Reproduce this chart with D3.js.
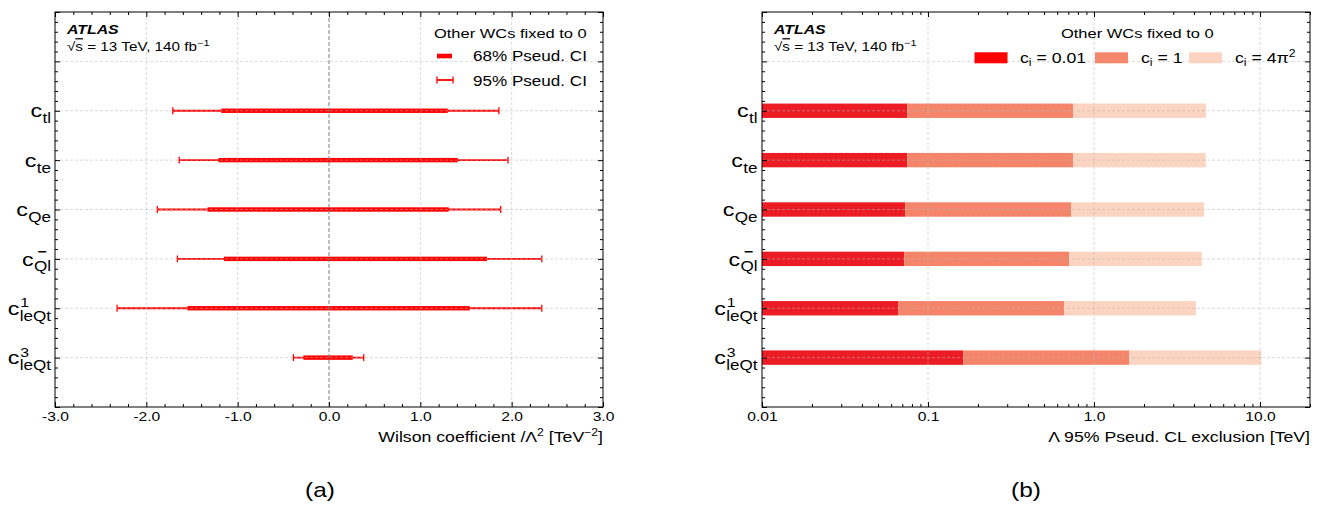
<!DOCTYPE html>
<html>
<head>
<meta charset="utf-8">
<script src="https://cdn.jsdelivr.net/npm/d3@7"></script>
<style>
body{margin:0;background:#fff;}
text{font-family:"Liberation Sans",Arial,Helvetica,sans-serif;}
</style>
</head>
<body>
<svg id="chart" width="1320" height="507"></svg>
<script>
// operators, top row first
var opSub = ["tl", "te", "Qe", "Ql", "leQt", "leQt"];
var opSup = ["", "", "", "\u2212", "1", "3"];
var opPos = [5, 4, 3, 2, 1, 0];

// (a) pseudo confidence intervals [TeV^-2]
var ci68Lo = [-1.18, -1.21, -1.33, -1.15, -1.55, -0.28];
var ci68Hi = [1.30, 1.41, 1.31, 1.73, 1.54, 0.26];
var ci95Lo = [-1.71, -1.64, -1.88, -1.66, -2.32, -0.39];
var ci95Hi = [1.86, 1.96, 1.88, 2.33, 2.33, 0.38];

// (b) Lambda exclusion [TeV] for c_i = 0.01, 1, 4pi^2
var lam001 = [0.075, 0.075, 0.073, 0.072, 0.066, 0.163];
var lam1 = [0.747, 0.747, 0.729, 0.709, 0.660, 1.625];
var lam4pi2 = [4.73, 4.71, 4.60, 4.46, 4.11, 10.18];

var xTicksWC = [-3, -2, -1, 0, 1, 2, 3];
var xTicksLam = [0.01, 0.1, 1, 10];
var xTickLabelsLam = ["0.01", "0.1", "1.0", "10.0"];

var SX = 1.22;   // the figure text is a bit wider than high
var top_ = 12, bottom = 407;

var svg = d3.select("#chart");
svg.append("rect").attr("width", 1320).attr("height", 507).attr("fill", "#fff");

var yScale = d3.scaleLinear().domain([-1, 7]).range([bottom, top_]);
var xWC = d3.scaleLinear().domain([-3, 3]).range([55, 603]);
var xLam = d3.scaleLog().domain([0.01, 20]).range([762, 1310]);

var barCol = ["#ec1c24", "#f4856a", "#fcd4c2"];
var legCol = ["#ff0000", "#f4876c", "#fcd3c1"];

function txt(g, x, y, size, anchor){
    return g.append("text")
        .attr("transform", `translate(${x},${y}) scale(${SX},1)`)
        .attr("font-size", size)
        .attr("text-anchor", anchor || "start")
        .attr("fill", "#000");
}

function grid(g, x, vals){
    var x0 = x.range()[0], x1 = x.range()[1];
    var gg = g.append("g").attr("class", "grid")
        .attr("stroke", "#b8b8b8").attr("stroke-width", 0.7)
        .attr("stroke-dasharray", "3,2").attr("opacity", 0.75);
    gg.selectAll("line.h").data(d3.range(0, 7)).join("line")
        .attr("class", "h")
        .attr("x1", x0).attr("x2", x1)
        .attr("y1", d => yScale(d)).attr("y2", d => yScale(d));
    gg.selectAll("line.v").data(vals).join("line")
        .attr("class", "v")
        .attr("x1", d => x(d)).attr("x2", d => x(d))
        .attr("y1", top_).attr("y2", bottom);
}

function axes(g, x, majorX, minorX, fmt){
    var x0 = x.range()[0], x1 = x.range()[1];
    var majorY = d3.range(-1, 8);
    var minorY = d3.range(-1, 7.001, 0.2).filter(v => Math.abs(v - Math.round(v)) > 1e-6);
    var list = [
        [d3.axisBottom(x).tickValues(majorX).tickFormat(fmt), 0, bottom, 5],
        [d3.axisBottom(x).tickValues(minorX).tickFormat(""), 0, bottom, 3],
        [d3.axisTop(x).tickValues(majorX).tickFormat(""), 0, top_, 5],
        [d3.axisTop(x).tickValues(minorX).tickFormat(""), 0, top_, 3],
        [d3.axisLeft(yScale).tickValues(majorY).tickFormat(""), x0, 0, 5],
        [d3.axisLeft(yScale).tickValues(minorY).tickFormat(""), x0, 0, 3],
        [d3.axisRight(yScale).tickValues(majorY).tickFormat(""), x1, 0, 5],
        [d3.axisRight(yScale).tickValues(minorY).tickFormat(""), x1, 0, 3]
    ];
    list.forEach(function(a){
        var ax = g.append("g")
            .attr("transform", `translate(${a[1]},${a[2]})`)
            .call(a[0].tickSizeInner(-a[3]).tickSizeOuter(0).tickPadding(4.6));
        ax.select(".domain").remove();
        ax.attr("font-family", null).attr("font-size", 12.8);
        ax.selectAll("text").attr("transform", `scale(${SX},1)`).attr("fill", "#000");
        ax.selectAll("line").attr("stroke", "#000");
    });
    g.append("rect")
        .attr("x", x0).attr("y", top_)
        .attr("width", x1 - x0).attr("height", bottom - top_)
        .attr("fill", "none").attr("stroke", "#000").attr("stroke-width", 1);
}

function opLabels(g, xRight){
    opSub.forEach(function(s, i){
        var lg = g.append("g")
            .attr("transform", `translate(${xRight},${yScale(opPos[i])}) scale(${SX},1)`);
        var sub = lg.append("text").attr("y", 12.5).attr("font-size", 14)
            .attr("text-anchor", "end").text(s);
        var w = sub.node().getComputedTextLength();
        lg.append("text").attr("x", -w - 0.3).attr("y", 6.7).attr("font-size", 19)
            .attr("text-anchor", "end").text("c");
        if (opSup[i] === "\u2212") {
            lg.append("text").attr("x", -w + 2.9).attr("y", -2.5).attr("font-size", 13)
                .attr("font-weight", "bold").text(opSup[i]);
        } else if (opSup[i]) {
            lg.append("text").attr("x", -w + 0.5).attr("y", -1).attr("font-size", 13).text(opSup[i]);
        }
    });
}

function atlas(g, x){
    txt(g, x, 34, 13).attr("font-weight", "bold").attr("font-style", "italic").text("ATLAS");
    var t = txt(g, x, 50.7, 12.5);
    t.append("tspan").text("\u221a");
    t.append("tspan").attr("text-decoration", "overline").style("text-decoration", "overline").text("s");
    t.append("tspan").text(" =  13 TeV, 140 fb");
    t.append("tspan").attr("font-size", 9).attr("dy", -4.5).text("\u22121");
}

function minorLog(){
    var out = [];
    [-2, -1, 0, 1].forEach(function(k){
        for (var m = 2; m <= 9; m++) {
            var v = m * Math.pow(10, k);
            if (v <= 20.0001) out.push(v);
        }
    });
    return out;
}

//-(a)------------------------------------------------------------------//
var gA = svg.append("g").attr("class", "panel-a");
var rows = opPos.map((p, i) => i);

var bars68 = gA.selectAll("rect.ci68").data(rows).join("rect")
    .attr("class", "ci68")
    .attr("x", i => xWC(ci68Lo[i]))
    .attr("width", i => xWC(ci68Hi[i]) - xWC(ci68Lo[i]))
    .attr("y", i => yScale(opPos[i]) - 2.2)
    .attr("height", 4.4)
    .attr("fill", "#ff0000");

var g95 = gA.append("g").attr("stroke", "#ff0000").attr("stroke-width", 1.8);
g95.selectAll("line.ci95").data(rows).join("line")
    .attr("class", "ci95")
    .attr("x1", i => xWC(ci95Lo[i])).attr("x2", i => xWC(ci95Hi[i]))
    .attr("y1", i => yScale(opPos[i])).attr("y2", i => yScale(opPos[i]));
g95.selectAll("line.capL").data(rows).join("line")
    .attr("class", "capL").attr("stroke-width", 1.3)
    .attr("x1", i => xWC(ci95Lo[i])).attr("x2", i => xWC(ci95Lo[i]))
    .attr("y1", i => yScale(opPos[i]) - 3.4).attr("y2", i => yScale(opPos[i]) + 3.4);
g95.selectAll("line.capR").data(rows).join("line")
    .attr("class", "capR").attr("stroke-width", 1.3)
    .attr("x1", i => xWC(ci95Hi[i])).attr("x2", i => xWC(ci95Hi[i]))
    .attr("y1", i => yScale(opPos[i]) - 3.4).attr("y2", i => yScale(opPos[i]) + 3.4);

grid(gA, xWC, [-2, -1, 1, 2]);
gA.append("line")
    .attr("x1", xWC(0)).attr("x2", xWC(0))
    .attr("y1", top_).attr("y2", bottom)
    .attr("stroke", "#7f7f7f").attr("stroke-width", 1)
    .attr("stroke-dasharray", "4,2");

var minorWC = d3.range(-3, 3.001, 0.2).filter(v => Math.abs(v - Math.round(v)) > 1e-6);
axes(gA, xWC, xTicksWC, minorWC, d => d.toFixed(1));
opLabels(gA, 51);
atlas(gA, 67);

// legend (a)
txt(gA, 434, 37.7, 13.5).text("Other WCs fixed to 0");
gA.append("rect").attr("x", 437).attr("y", 56 - 2.3).attr("width", 15).attr("height", 4.6).attr("fill", "#ff0000");
txt(gA, 473, 61.2, 14).text("68% Pseud. CI");
var lg95 = gA.append("g").attr("stroke", "#ff0000");
lg95.append("line").attr("x1", 437).attr("x2", 453).attr("y1", 80).attr("y2", 80).attr("stroke-width", 1.8);
lg95.append("line").attr("x1", 437).attr("x2", 437).attr("y1", 76.6).attr("y2", 83.4).attr("stroke-width", 1.3);
lg95.append("line").attr("x1", 453).attr("x2", 453).attr("y1", 76.6).attr("y2", 83.4).attr("stroke-width", 1.3);
txt(gA, 473, 85.5, 14).text("95% Pseud. CI");

var tA = txt(gA, 603, 442, 14.5, "end");
tA.append("tspan").text("Wilson coefficient /\u039b");
tA.append("tspan").attr("font-size", 10).attr("dy", -6).text("2");
tA.append("tspan").attr("dy", 6).text(" [TeV");
tA.append("tspan").attr("font-size", 10).attr("dy", -6).text("\u22122");
tA.append("tspan").attr("dy", 6).text("]");

//-(b)------------------------------------------------------------------//
var gB = svg.append("g").attr("class", "panel-b");
var segs = [];
rows.forEach(function(i){
    segs.push({i: i, a: 0.01, b: lam001[i], k: 0});
    segs.push({i: i, a: lam001[i], b: lam1[i], k: 1});
    segs.push({i: i, a: lam1[i], b: lam4pi2[i], k: 2});
});
gB.selectAll("rect.bar").data(segs).join("rect")
    .attr("class", "bar")
    .attr("x", d => xLam(d.a))
    .attr("width", d => xLam(d.b) - xLam(d.a))
    .attr("y", d => yScale(opPos[d.i]) - 7.2)
    .attr("height", 14.4)
    .attr("fill", d => barCol[d.k]);

grid(gB, xLam, [0.1, 1, 10]);
axes(gB, xLam, xTicksLam, minorLog(), (d, i) => xTickLabelsLam[xTicksLam.indexOf(d)]);
opLabels(gB, 757.5);
atlas(gB, 774);

// legend (b)
txt(gB, 1061, 37.7, 13.5).text("Other WCs fixed to 0");
var legX = [974.5, 1095, 1189];
var legT = [1020, 1141, 1235];
var legVal = ["0.01", "1", "4\u03c0"];
legX.forEach(function(x, k){
    gB.append("rect").attr("x", x).attr("y", 52.3).attr("width", 33).attr("height", 11).attr("fill", legCol[k]);
    var t = txt(gB, legT[k], 63.3, 14.5);
    t.append("tspan").text("c");
    t.append("tspan").attr("font-size", 10).attr("dy", 3).text("i");
    t.append("tspan").attr("dy", -3).text(" = " + legVal[k]);
    if (k === 2) t.append("tspan").attr("font-size", 10).attr("dy", -6).text("2");
});

txt(gB, 1310, 442, 14.5, "end").text("\u039b 95% Pseud. CL exclusion [TeV]");

// captions
txt(svg, 320, 497, 20, "middle").attr("font-family", "'Liberation Serif','Times New Roman',serif").text("(a)");
txt(svg, 1026, 497, 20, "middle").attr("font-family", "'Liberation Serif','Times New Roman',serif").text("(b)");
</script>
</body>
</html>
